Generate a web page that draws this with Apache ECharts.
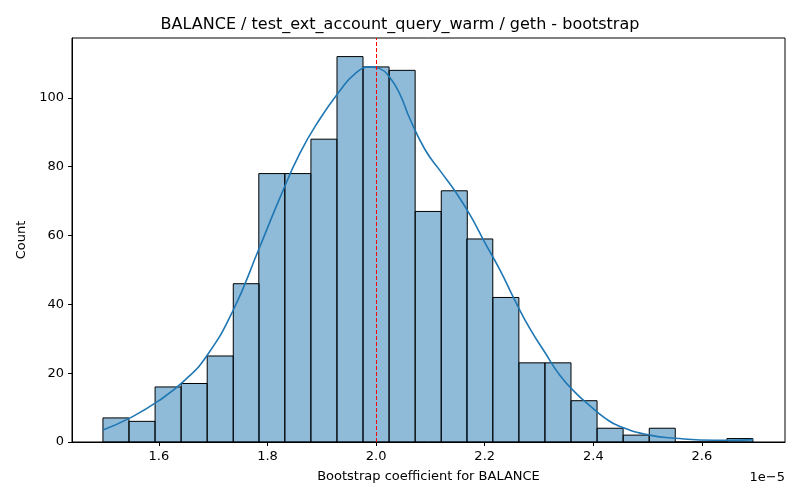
<!DOCTYPE html>
<html>
<head>
<meta charset="utf-8">
<script src="https://cdn.jsdelivr.net/npm/echarts@6/dist/echarts.min.js"></script>
<style>html,body{margin:0;background:#fff}#chart{width:800px;height:500px}</style>
</head>
<body>
<div id="chart"></div>
<script>
// histogram bins (left edges, x1e-5) and counts
var binStart = [1.497,1.545,1.593,1.641,1.689,1.737,1.784,1.832,1.880,1.928,1.976,2.024,2.072,2.120,2.167,2.215,2.263,2.311,2.359,2.407,2.455,2.503,2.551,2.598,2.646];
var binWidth = 0.0479;
var counts = [7,6,16,17,25,46,78,78,88,112,109,108,67,73,59,42,23,23,12,4,2,4,0,0,1];
// KDE curve
var kdeX = [1.497,1.547,1.6,1.648,1.688,1.736,1.784,1.823,1.86,1.897,1.933,1.961,1.989,2.007,2.025,2.044,2.062,2.09,2.117,2.145,2.173,2.2,2.228,2.256,2.283,2.311,2.338,2.366,2.394,2.421,2.449,2.504,2.559,2.596,2.651,2.694];
var kdeY = [3.5,7,12,18,25,38,56,71,84,94,102,107,109,108.5,106,101,94,85,79,73,66,58,50,41,33,26,19.5,14.5,10.5,7,4.5,2,1,0.6,0.5,0.7];
var meanX = 1.996;
var xTicks = [1.6,1.8,2.0,2.2,2.4,2.6];
var yTicks = [0,20,40,60,80,100];

var font = 'DejaVu Sans';
var chart = echarts.init(document.getElementById('chart'));
var bars = binStart.map(function (s, i) { return [s, s + binWidth, counts[i]]; });
var kde = kdeX.map(function (x, i) { return [x, kdeY[i]]; });

chart.setOption({
    animation: false,
    title: {
        text: 'BALANCE / test_ext_account_query_warm / geth - bootstrap',
        left: 'center', top: 12,
        textStyle: {fontFamily: font, fontSize: 16, fontWeight: 'normal', color: '#000'}
    },
    grid: {left: 72, right: 15, top: 38, bottom: 58, show: true, borderColor: '#000', borderWidth: 1},
    xAxis: {
        type: 'value', min: 1.44, max: 2.753,
        name: 'Bootstrap coefficient for BALANCE', nameLocation: 'middle', nameGap: 28,
        nameTextStyle: {fontFamily: font, fontSize: 13, color: '#000'},
        axisLine: {lineStyle: {color: '#000'}},
        axisTick: {customValues: xTicks, length: 4, lineStyle: {color: '#000'}},
        axisLabel: {customValues: xTicks, fontFamily: font, fontSize: 13, color: '#000',
            formatter: function (v) { return v.toFixed(1); }},
        splitLine: {show: false}
    },
    yAxis: {
        type: 'value', min: 0, max: 117.4,
        name: 'Count', nameLocation: 'middle', nameGap: 44,
        nameTextStyle: {fontFamily: font, fontSize: 13, color: '#000'},
        axisLine: {show: true, lineStyle: {color: '#000'}},
        axisTick: {show: true, customValues: yTicks, length: 4, lineStyle: {color: '#000'}},
        axisLabel: {customValues: yTicks, fontFamily: font, fontSize: 13, color: '#000'},
        splitLine: {show: false}
    },
    graphic: [{
        type: 'text', right: 15, bottom: 16,
        style: {text: '1e\u22125', font: '13px DejaVu Sans', fill: '#000'}
    }],
    series: [{
        type: 'custom',
        data: bars,
        renderItem: function (params, api) {
            var p0 = api.coord([api.value(0), api.value(2)]);
            var p1 = api.coord([api.value(1), 0]);
            return {
                type: 'rect',
                shape: {x: p0[0], y: p0[1], width: p1[0] - p0[0], height: p1[1] - p0[1]},
                style: {fill: 'rgba(31,119,180,0.5)', stroke: '#000', lineWidth: 1}
            };
        },
        encode: {x: [0, 1], y: 2},
        z: 2
    }, {
        type: 'line', data: kde, smooth: true, symbol: 'none',
        lineStyle: {color: '#1f77b4', width: 1.6}, z: 3,
        markLine: {
            silent: true, symbol: 'none', label: {show: false},
            lineStyle: {color: '#ff0000', type: [4, 2], width: 1},
            data: [{xAxis: meanX}]
        }
    }]
});
</script>
</body>
</html>
